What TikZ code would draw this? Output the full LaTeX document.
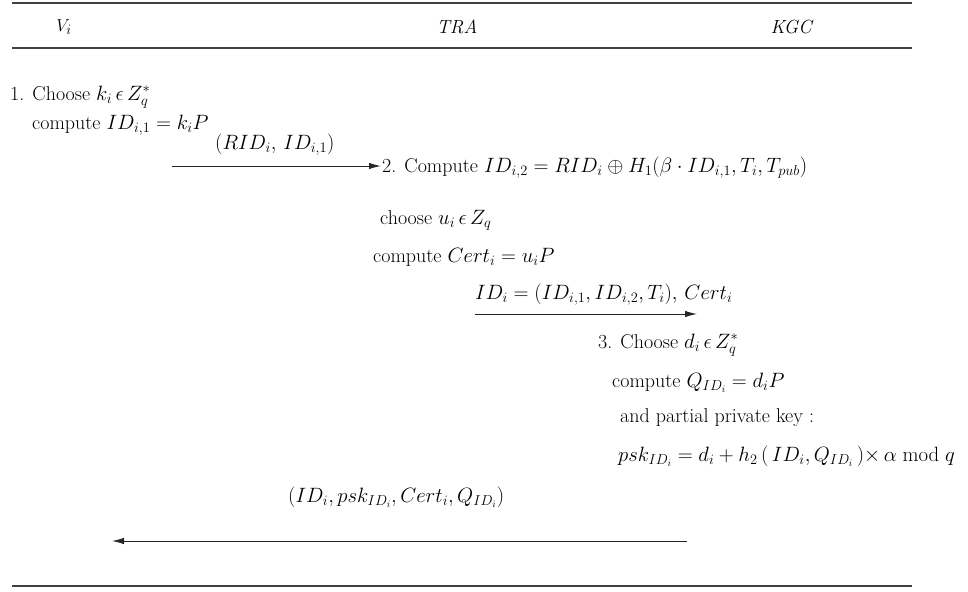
\documentclass[tikz,border=0pt]{standalone}
\usetikzlibrary{arrows.meta}
\begin{document}
\begin{tikzpicture}[x=1pt,y=-1pt,
  txt/.style={anchor=west,inner sep=0pt,font=\fontsize{20}{22}\selectfont},
  hdr/.style={inner sep=0pt,font=\fontsize{19}{21}\selectfont},
  msg/.style={-{Latex[length=12pt,width=6.5pt]},line width=1pt,draw=black!85},
  rulel/.style={line width=1.5pt,draw=black!75}]
\useasboundingbox (0,0) rectangle (968,591);
% rules
\coordinate (r1a) at (12,3);   \coordinate (r1b) at (912,3);
\coordinate (r2a) at (12,48);  \coordinate (r2b) at (912,48);
\coordinate (r3a) at (12,586); \coordinate (r3b) at (912,586);
\draw[rulel] (r1a) -- (r1b);
\draw[rulel] (r2a) -- (r2b);
\draw[rulel] (r3a) -- (r3b);
% header
\node[hdr] (hv) at (64,27) {$V_i$};
\node[hdr] (ht) at (457,27) {\textit{TRA}};
\node[hdr] (hk) at (792,27) {\textit{KGC}};
% V_i steps
\node[txt] (n1) at (10,97) {1. Choose $k_i\,\epsilon\,Z_q^{*}$};
\node[txt] (n2) at (32,125) {compute $ID_{i,1} = k_iP$};
\node[txt] (l1) at (215,145) {$(RID_i,\, ID_{i,1})$};
\coordinate (a1s) at (172,166);
% TRA steps
\node[txt] (n3) at (382,168) {2. Compute $ID_{i,2} = RID_i \oplus H_1(\beta\cdot ID_{i,1}, T_i, T_{pub})$};
\node[txt] (n4) at (380,220) {choose $u_i\,\epsilon\,Z_q$};
\node[txt] (n5) at (373,257) {compute $Cert_i = u_iP$};
\node[txt] (l2) at (475,295) {$ID_i =(ID_{i,1}, ID_{i,2}, T_i),\, Cert_i$};
\coordinate (a2s) at (475,314);
\coordinate (a2e) at (697,314);
% KGC steps
\node[txt] (n6) at (598,345) {3. Choose $d_i\,\epsilon\,Z_q^{*}$};
\node[txt] (n7) at (612,383) {compute $Q_{ID_i} = d_iP$};
\node[txt] (n8) at (620,418) {and partial private key :};
\node[txt] (n9) at (618,456) {$psk_{ID_i} = d_i + h_2\,(\,ID_i,Q_{ID_i}\,){\times}\, \alpha \bmod q$};
\node[txt] (l3) at (288,497) {$(ID_i, psk_{ID_i}, Cert_i, Q_{ID_i})$};
\coordinate (a3s) at (687,541);
\coordinate (a3e) at (112,541);
% messages
\draw[msg] (a1s) -- ([xshift=-1pt]n3.west |- a1s);
\draw[msg] (a2s) -- (a2e);
\draw[msg] (a3s) -- (a3e);
\end{tikzpicture}
\end{document}
